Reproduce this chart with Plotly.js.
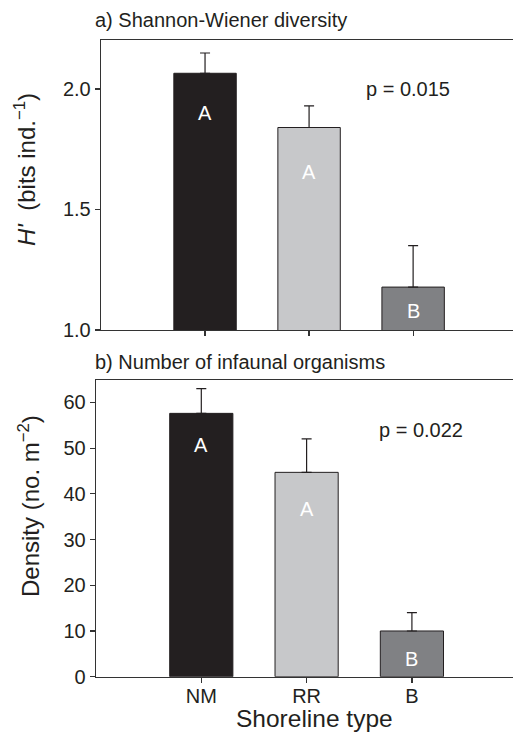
<!DOCTYPE html>
<html>
<head>
<meta charset="utf-8">
<script src="https://cdn.plot.ly/plotly-3.0.1.min.js"></script>
<style>
  html, body { margin: 0; padding: 0; background: #ffffff; overflow: hidden; }
  #chart { width: 513px; height: 734px; }
</style>
</head>
<body>
<div id="chart"></div>
<script>
// Shoreline types on the category axis
const shorelineTypes = ['NM', 'RR', 'B'];

// a) Shannon-Wiener diversity H' (bits ind.^-1): means and upper error
const diversityMean = [2.065, 1.84, 1.178];
const diversityErr = [0.084, 0.09, 0.172];
const diversityGroups = ['A', 'A', 'B'];
const diversityP = 'p = 0.015';

// b) Density of infaunal organisms (no. m^-2): means and upper error
const densityMean = [57.6, 44.7, 10.0];
const densityErr = [5.4, 7.3, 4.0];
const densityGroups = ['A', 'A', 'B'];
const densityP = 'p = 0.022';

const barColors = ['#231f20', '#c7c8ca', '#808184'];
const ink = '#231f20';
const FONT = 'Liberation Sans, Arial, Helvetica, sans-serif';

function barTrace(values, errors, xa, ya) {
  return {
    type: 'bar',
    x: shorelineTypes,
    y: values,
    xaxis: xa,
    yaxis: ya,
    width: 0.6,
    marker: { color: barColors, line: { color: ink, width: 1 } },
    error_y: {
      type: 'data',
      symmetric: false,
      array: errors,
      arrayminus: values.map(() => 0),
      color: ink,
      thickness: 1.2,
      width: 5
    },
    hoverinfo: 'skip',
    showlegend: false
  };
}

const traces = [
  barTrace(diversityMean, diversityErr, 'x', 'y'),
  barTrace(densityMean, densityErr, 'x2', 'y2')
];

// Group letters sit inside the bars, in axis units
const letterYTop = [1.90, 1.656, 1.08];
const letterYBottom = [50.7, 36.6, 3.8];

const annotations = [];
shorelineTypes.forEach((s, i) => {
  annotations.push({
    xref: 'x', yref: 'y', x: s, y: letterYTop[i],
    text: diversityGroups[i], showarrow: false,
    font: { family: FONT, size: 20, color: '#ffffff' }
  });
  annotations.push({
    xref: 'x2', yref: 'y2', x: s, y: letterYBottom[i],
    text: densityGroups[i], showarrow: false,
    font: { family: FONT, size: 20, color: '#ffffff' }
  });
});

annotations.push(
  { xref: 'x', yref: 'y', x: 1.95, y: 2.0, text: diversityP, showarrow: false,
    font: { family: FONT, size: 20, color: ink } },
  { xref: 'x2', yref: 'y2', x: 2.09, y: 53.9, text: densityP, showarrow: false,
    font: { family: FONT, size: 20, color: ink } },
  // panel headings
  { xref: 'paper', yref: 'paper', x: 93 / 513, y: 1 - 20 / 734, xanchor: 'left', yanchor: 'middle',
    text: 'a) Shannon-Wiener diversity', showarrow: false,
    font: { family: FONT, size: 20, color: ink } },
  { xref: 'paper', yref: 'paper', x: 93 / 513, y: 1 - 362 / 734, xanchor: 'left', yanchor: 'middle',
    text: 'b) Number of infaunal organisms', showarrow: false,
    font: { family: FONT, size: 20, color: ink } },
  // axis titles
  { xref: 'paper', yref: 'paper', x: 25 / 513, y: 1 - 170 / 734, xanchor: 'center', yanchor: 'middle',
    textangle: -90, text: "<i>H'</i>&nbsp; (bits ind.<sup>−1</sup>)", showarrow: false,
    font: { family: FONT, size: 24, color: ink } },
  { xref: 'paper', yref: 'paper', x: 29 / 513, y: 1 - 506 / 734, xanchor: 'center', yanchor: 'middle',
    textangle: -90, text: 'Density (no. m<sup>−2</sup>)', showarrow: false,
    font: { family: FONT, size: 24, color: ink } },
  { xref: 'paper', yref: 'paper', x: 314 / 513, y: 1 - 718 / 734, xanchor: 'center', yanchor: 'middle',
    text: 'Shoreline type', showarrow: false,
    font: { family: FONT, size: 24.5, color: ink } }
);

const axisLine = { showline: true, linecolor: '#333333', linewidth: 1.3,
  ticks: 'outside', ticklen: 5, tickwidth: 1.2, tickcolor: '#333333',
  showgrid: false, zeroline: false, fixedrange: true,
  tickfont: { family: FONT, size: 20, color: ink } };

const layout = {
  width: 513,
  height: 734,
  margin: { l: 0, r: 0, t: 0, b: 0 },
  paper_bgcolor: '#ffffff',
  plot_bgcolor: '#ffffff',
  bargap: 0.4,
  xaxis: Object.assign({}, axisLine, {
    domain: [101 / 513, 1], anchor: 'y', type: 'category',
    range: [-1, 2.96], mirror: true, showticklabels: false
  }),
  yaxis: Object.assign({}, axisLine, {
    domain: [1 - 330 / 734, 1 - 40 / 734], anchor: 'x',
    range: [1.0, 2.203], dtick: 0.5, tick0: 1, tickformat: '.1f'
  }),
  xaxis2: Object.assign({}, axisLine, {
    domain: [96 / 513, 1], anchor: 'y2', type: 'category',
    range: [-1, 2.96], mirror: true, ticklabelstandoff: -4
  }),
  yaxis2: Object.assign({}, axisLine, {
    domain: [1 - 676.7 / 734, 1 - 380 / 734], anchor: 'x2',
    range: [0, 64.9], dtick: 10, tick0: 0
  }),
  annotations: annotations
};

Plotly.newPlot('chart', traces, layout, { staticPlot: true, displayModeBar: false });
</script>
</body>
</html>
